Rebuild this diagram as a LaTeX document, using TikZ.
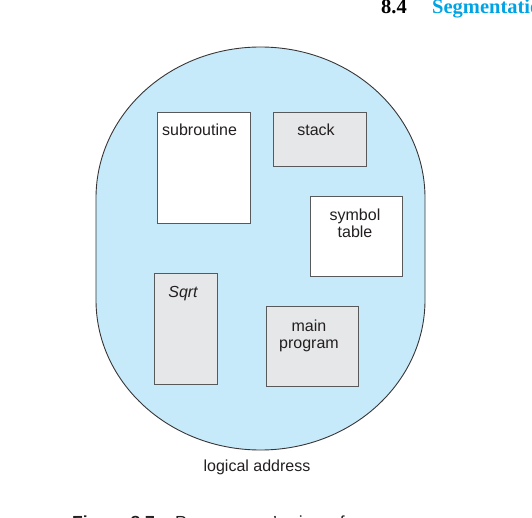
\documentclass[tikz,border=0pt]{standalone}
\usepackage{fontspec}
\setmainfont{Liberation Sans}
\newfontfamily\headfont{Liberation Serif}
\definecolor{ovalblue}{RGB}{199,234,250}
\definecolor{boxgray}{RGB}{230,231,232}
\definecolor{edgegray}{RGB}{88,89,91}
\definecolor{inkdark}{RGB}{35,31,32}
\definecolor{headblue}{RGB}{0,163,228}
\begin{document}
\begin{tikzpicture}[x=1pt,y=-1pt,
  segbox/.style={draw=edgegray,line width=1.1pt,inner sep=0pt,anchor=north west},
  lbl/.style={font=\fontsize{16}{18}\selectfont,text=inkdark,inner sep=0pt,anchor=base},
  headtxt/.style={anchor=base west,inner sep=0pt,font=\headfont\bfseries\fontsize{20.5}{23}\selectfont},
  captxt/.style={anchor=base west,inner sep=0pt,text=inkdark,font=\fontsize{17.5}{20}\selectfont}]
\clip (0,0) rectangle (532,518);
% header and caption (page context, clipped)
\node[headtxt] (hnum) at (381,13.5) {8.4};
\node[headtxt,text=headblue] (htitle) at (432,13.5) {Segmentation};
\node[captxt] (capA) at (72,528) {\textbf{Figure 8.7}};
\node[captxt] (capB) at (175,528) {Programmer’s view of a program.};
% logical address space
\path[fill=ovalblue,draw=inkdark!90,line width=0.9pt]
  (96,198) arc[start angle=180,end angle=360,x radius=164.5,y radius=151]
  -- (425,300) arc[start angle=0,end angle=180,x radius=164.5,y radius=150]
  -- cycle;
% segments
\node[segbox,fill=white,minimum width=93pt,minimum height=111pt] (sub) at (157,112) {};
\node[segbox,fill=boxgray,minimum width=93pt,minimum height=54pt] (stack) at (273,112) {};
\node[segbox,fill=white,minimum width=92pt,minimum height=80pt] (sym) at (310,196) {};
\node[segbox,fill=boxgray,minimum width=63pt,minimum height=111pt] (sqrt) at (154,273) {};
\node[segbox,fill=boxgray,minimum width=92pt,minimum height=80pt] (main) at (266,306) {};
% labels
\node[lbl,anchor=base west] (subT) at (162,136) {subroutine};
\node[lbl] (stackT) at (316,136) {stack};
\node[lbl] (symT1) at (355,220.5) {symbol};
\node[lbl] (symT2) at (355,238) {table};
\node[lbl] (sqrtT) at (183,297.5) {\itshape Sqrt};
\node[lbl] (mainT1) at (309,331.5) {main};
\node[lbl] (mainT2) at (309,348) {program};
\node[lbl] (addrT) at (257,471.5) {logical address};
\end{tikzpicture}
\end{document}
